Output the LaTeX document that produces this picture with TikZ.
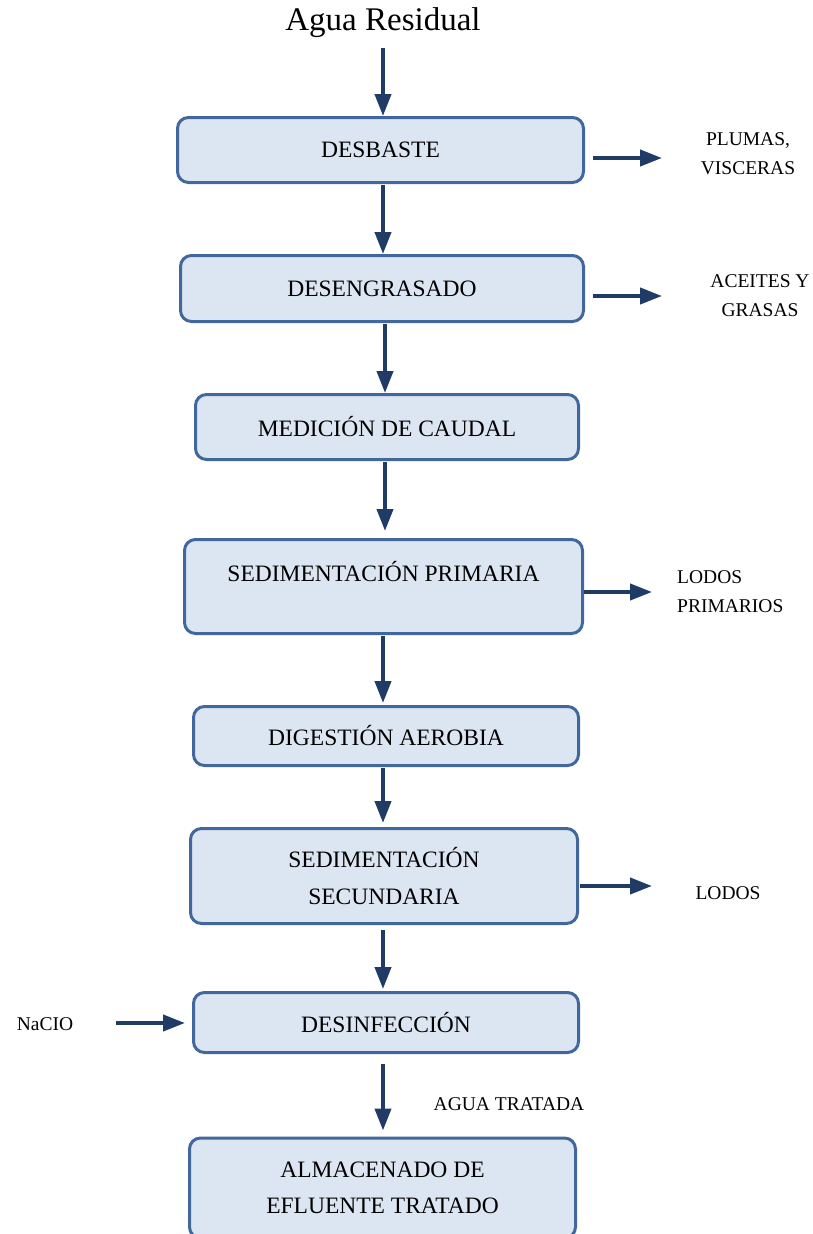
\documentclass[tikz,border=0pt]{standalone}
\usepackage{fontspec}
\setmainfont{Liberation Serif}
\usetikzlibrary{arrows.meta,calc}
\definecolor{boxfill}{HTML}{DCE6F2}
\definecolor{boxline}{HTML}{41679C}
\definecolor{arrowc}{HTML}{1F3B66}
\begin{document}
\begin{tikzpicture}[x=1pt,y=-1pt,
  box/.style={draw=boxline, fill=boxfill, line width=3pt, rounded corners=11pt,
    inner sep=0pt, font=\fontsize{23.5}{37}\selectfont, align=center},
  boxtext/.style={font=\fontsize{23.5}{36}\selectfont, align=center, inner sep=0pt},
  side/.style={font=\fontsize{19.5}{29}\selectfont, inner sep=0pt},
  arr/.style={draw=arrowc, line width=4pt,
    -{Triangle[length=22pt,width=16pt]}},
]
\useasboundingbox (0,0) rectangle (813,1234);
\clip (0,0) rectangle (813,1234);

% title
\node[font=\fontsize{33}{38}\selectfont, inner sep=0pt] (title) at (383,23) {Agua Residual};

% process boxes
\node[box, minimum width=406pt, minimum height=65pt] (b1) at (380.5,150) {DESBASTE};
\node[box, minimum width=403pt, minimum height=66pt] (b2) at (382,288.5) {DESENGRASADO};
\node[box, minimum width=383pt, minimum height=65pt] (b3) at (387,427) {MEDICIÓN DE CAUDAL};
\node[box, minimum width=398pt, minimum height=94pt] (b4) at (383.5,586.5) {};
\node[boxtext] (t4) at (383.5,572) {SEDIMENTACIÓN PRIMARIA};
\node[box, minimum width=385pt, minimum height=59pt] (b5) at (386,736) {DIGESTIÓN AEROBIA};
\node[box, minimum width=387pt, minimum height=95pt] (b6) at (384,876) {SEDIMENTACIÓN\\SECUNDARIA};
\node[box, minimum width=385pt, minimum height=60pt] (b7) at (386,1022.5) {DESINFECCIÓN};
\node[box, minimum width=386pt, minimum height=100pt] (b8) at (382.5,1188) {};
\node[boxtext] (t8) at (382.5,1188) {ALMACENADO DE\\EFLUENTE TRATADO};

% side labels
\node[side, align=center] (l1) at (748,154) {PLUMAS,\\VISCERAS};
\node[side, align=center] (l2) at (760,296) {ACEITES Y\\GRASAS};
\node[side, align=left, anchor=west] (l4) at (677,592) {LODOS\\PRIMARIOS};
\node[side] (l6) at (728,893) {LODOS};
\node[side] (l7) at (45,1024) {NaCIO};
\node[side] (l8) at (509,1104) {AGUA TRATADA};

% main flow
\coordinate (xa) at (383,0);
\coordinate (xb) at (385,0);
\draw[arr, shorten <=10pt] (title.south -| xa) -- (b1.north -| xa);
\draw[arr, shorten <=1pt] (b1.south -| xa) -- (b2.north -| xa);
\draw[arr, shorten <=1pt] (b2.south -| xb) -- (b3.north -| xb);
\draw[arr, shorten <=1pt, shorten >=7pt] (b3.south -| xb) -- (b4.north -| xb);
\draw[arr, shorten <=1pt, shorten >=2pt] (b4.south -| xa) -- (b5.north -| xa);
\draw[arr, shorten <=1pt, shorten >=4pt] (b5.south -| xa) -- (b6.north -| xa);
\draw[arr, shorten <=5pt, shorten >=2pt] (b6.south -| xa) -- (b7.north -| xa);
\draw[arr, shorten <=10pt, shorten >=6pt] (b7.south -| xa) -- (b8.north -| xa);

% outputs and dosing
\coordinate (o1) at (662,158);
\coordinate (o2) at (662,296);
\coordinate (o4) at (652,592);
\coordinate (o6) at (652,886);
\coordinate (n0) at (116,1023);
\draw[arr, shorten <=8pt] (b1.east |- o1) -- (o1);
\draw[arr, shorten <=8pt] (b2.east |- o2) -- (o2);
\draw[arr] (b4.east |- o4) -- (o4);
\draw[arr, shorten <=1pt] (b6.east |- o6) -- (o6);
\draw[arr, shorten >=7pt] (n0) -- (b7.west |- n0);
\end{tikzpicture}
\end{document}
